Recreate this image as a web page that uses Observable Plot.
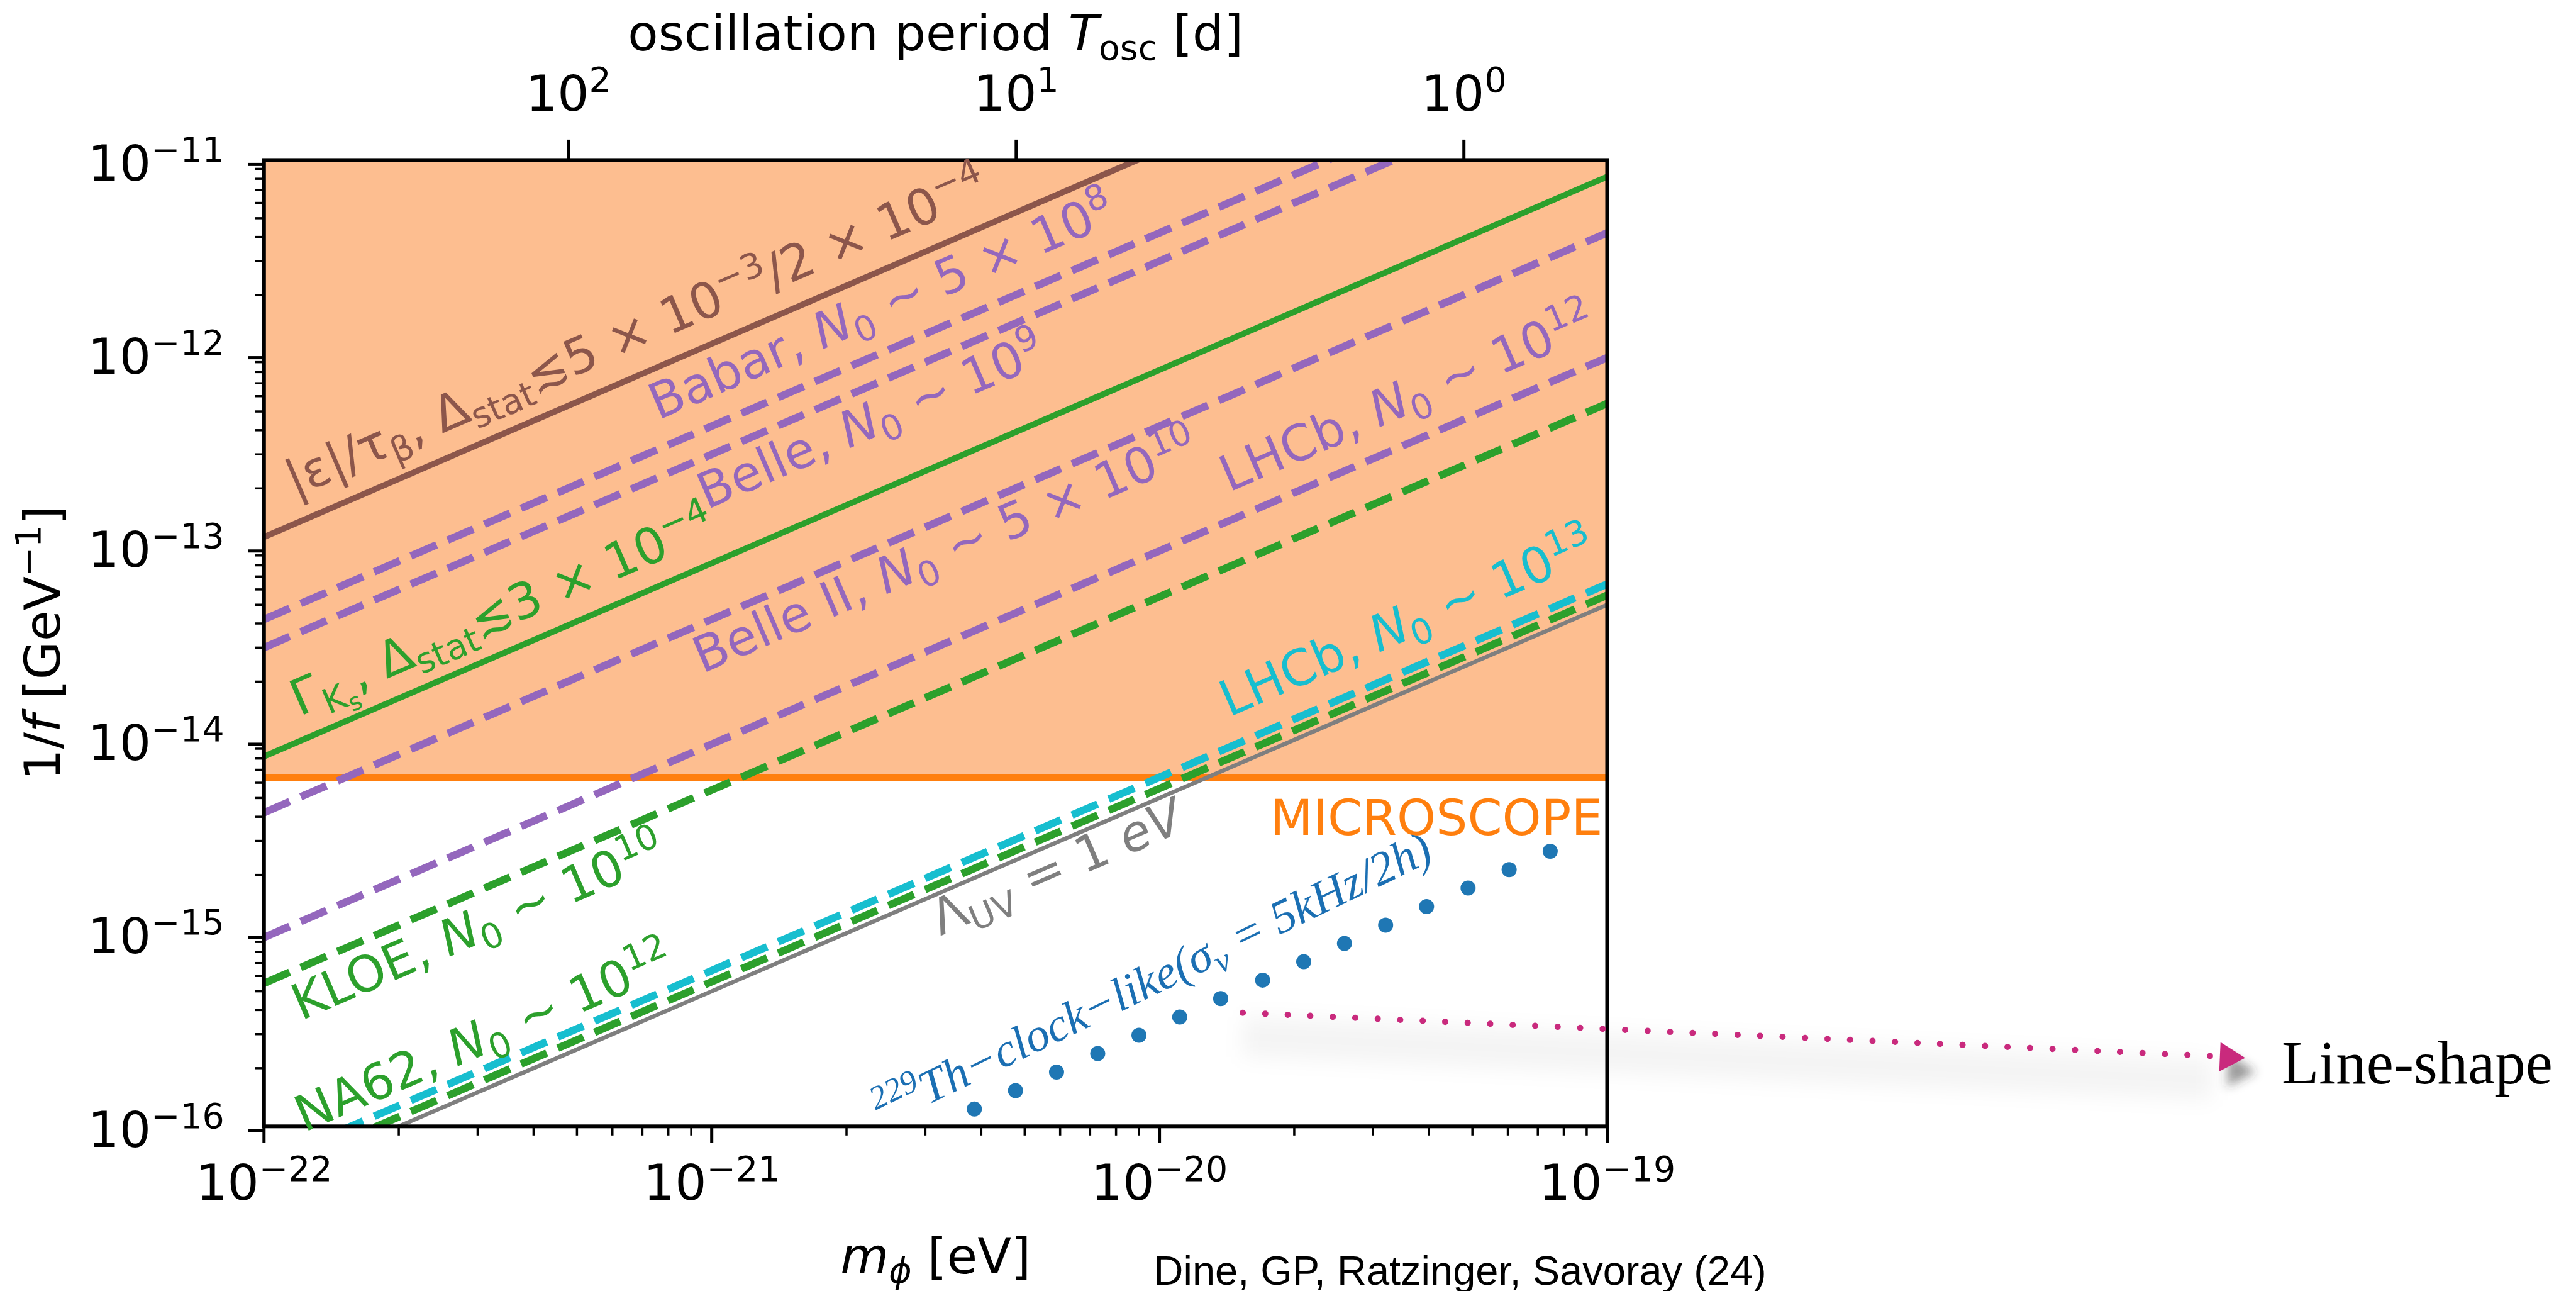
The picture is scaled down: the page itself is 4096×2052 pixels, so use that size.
<!DOCTYPE html>
<html>
<head>
<meta charset="utf-8">
<script src="https://cdn.jsdelivr.net/npm/d3@7"></script>
<script src="https://cdn.jsdelivr.net/npm/@observablehq/plot@0.6"></script>
<style>
html, body { margin: 0; padding: 0; background: #fff; overflow: hidden; }
</style>
</head>
<body>
<div id="chart"></div>
<script>
// ---------------- data ----------------
// x: scalar mass m_phi [eV], y: 1/f [GeV^-1]; every bound is a straight power law, given at both mass ends
const massEnds        = [1e-22, 1e-19];
const epsTauBeta      = [1.12e-13, 1.12e-10];
const babarN0         = [4.2e-14, 4.2e-11];
const belleN0         = [3.0e-14, 3.0e-11];
const gammaKs         = [8.2e-15, 8.2e-12];
const belle2N0        = [4.2e-15, 4.2e-12];
const lhcbN0e12       = [9.5e-16, 9.5e-13];
const kloeN0          = [5.5e-16, 5.5e-13];
const lhcbN0e13       = [6.4e-17, 6.4e-14];
const na62N0          = [5.6e-17, 5.6e-14];
const lambdaUV1eV     = [5.0e-17, 5.0e-14];
const microscopeLimit = [6.4e-15, 6.4e-15];

// 229Th clock-like projection (dots)
const thoriumMass = [3.86e-21, 4.77e-21, 5.89e-21, 7.28e-21, 9.0e-21, 1.11e-20, 1.37e-20, 1.70e-20,
                     2.10e-20, 2.59e-20, 3.20e-20, 3.95e-20, 4.89e-20, 6.04e-20, 7.46e-20];
const thoriumCoupling = [1.23e-16, 1.53e-16, 1.91e-16, 2.38e-16, 2.96e-16, 3.68e-16, 4.58e-16, 5.71e-16,
                         7.11e-16, 8.85e-16, 1.10e-15, 1.37e-15, 1.71e-15, 2.13e-15, 2.65e-15];

// ticks
const xMajorTicks = [1e-22, 1e-21, 1e-20, 1e-19];
const yMajorTicks = [1e-16, 1e-15, 1e-14, 1e-13, 1e-12, 1e-11];
const periodTicksDays = [100, 10, 1];
const planckEVs = 4.135667e-15;   // h in eV s : T = h / m

// in-plot labels (text, anchor mass, anchor 1/f)
const labelTexts = [
  "|ε|/τ_{β}, Δ_{stat}≲5 × 10^{−3}/2 × 10^{−4}",
  "Babar, `{N}_{0} ∼ 5 × 10^{8}",
  "Belle, `{N}_{0} ∼ 10^{9}",
  "Γ_{K_{s}}, Δ_{stat}≲3 × 10^{−4}",
  "Belle II, `{N}_{0} ∼ 5 × 10^{10}",
  "LHCb, `{N}_{0} ∼ 10^{12}",
  "LHCb, `{N}_{0} ∼ 10^{13}",
  "KLOE, `{N}_{0} ∼ 10^{10}",
  "NA62, `{N}_{0} ∼ 10^{12}",
  "Λ_{UV} = 1 `{eV}",
  "MICROSCOPE"
];
const labelMass     = [1.17e-22, 7.59e-22, 9.75e-22, 1.20e-22, 9.53e-22, 1.43e-20, 1.43e-20, 1.21e-22, 1.23e-22, 3.24e-21, 9.77e-20];
const labelCoupling = [1.80e-13, 4.50e-13, 1.55e-13, 1.32e-14, 2.20e-14, 1.91e-13, 1.31e-14, 3.52e-16, 9.3e-17, 9.66e-16, 3.22e-15];

const thoriumLabel = "^{229}Th−clock−like(σ_{ν} = 5kHz/2h)";
const thoriumLabelMass = [2.42e-21];
const thoriumLabelCoupling = [1.0e-16];

// call-out arrow and its note
const arrowMass = [1.535e-20, 2.25e-18];
const arrowCoupling = [3.87e-16, 2.31e-16];
const arrowHeadMass = [2.44e-18];
const arrowHeadCoupling = [2.28e-16];
const noteText = ["Line-shape"];
const noteMass = [3.21e-18];
const noteCoupling = [1.67e-16];

const creditText = ["Dine, GP, Ratzinger, Savoray (24)"];

// ---------------- styling ----------------
const C = {brown: "#8c564b", purple: "#9467bd", green: "#2ca02c", cyan: "#17becf",
           grey: "#7f7f7f", orange: "#ff7f0e", blue: "#1f77b4", fill: "#fdbe90", magenta: "#c92a7d"};
const DASH = "44.4 19.2";
const lineStyles = [
  {vals: epsTauBeta,  stroke: C.brown,  width: 9.5, dash: null},
  {vals: gammaKs,     stroke: C.green,  width: 9.5, dash: null},
  {vals: lambdaUV1eV, stroke: C.grey,   width: 6.5, dash: null},
  {vals: babarN0,     stroke: C.purple, width: 12,  dash: DASH},
  {vals: belleN0,     stroke: C.purple, width: 12,  dash: DASH},
  {vals: belle2N0,    stroke: C.purple, width: 12,  dash: DASH},
  {vals: lhcbN0e12,   stroke: C.purple, width: 12,  dash: DASH},
  {vals: kloeN0,      stroke: C.green,  width: 12,  dash: DASH},
  {vals: na62N0,      stroke: C.green,  width: 12,  dash: DASH},
  {vals: lhcbN0e13,   stroke: C.cyan,   width: 12,  dash: DASH}
];
const labelColors = [C.brown, C.purple, C.purple, C.green, C.purple, C.purple, C.cyan, C.green, C.green, C.grey, C.orange];

const W = 4096, H = 2052;
const FL = 419.3, FR = 2555, FT = 253.9, FB = 1789.8;
const FS = 79;
const ANGLE = -Math.atan((FB - FT) / 5 / ((FR - FL) / 3)) * 180 / Math.PI;

const table = (ms, gs) => ms.map((m, i) => ({m, g: gs[i]}));
const pow10 = d => {
  const e = Math.round(Math.log10(d));
  return "10^{" + (e < 0 ? "−" + (-e) : String(e)) + "}";
};
const minorOf = (domain, majors) => d3.scaleLog().domain(domain).ticks()
  .filter(t => !majors.some(M => Math.abs(t / M - 1) < 1e-6));
const xMinor = minorOf([1e-22, 1e-19], xMajorTicks);
const yMinor = minorOf([1e-16, 1e-11], yMajorTicks);
const periodTickMass = periodTicksDays.map(T => planckEVs / (T * 86400));

const marks = [];
// excluded region
marks.push(Plot.areaY(table(massEnds, microscopeLimit), {x: "m", y1: "g", y2: 1e-11, fill: C.fill}));
marks.push(Plot.line(table(massEnds, microscopeLimit), {x: "m", y: "g", stroke: C.orange, strokeWidth: 11, strokeLinecap: "butt"}));
// bounds
for (const s of lineStyles) {
  marks.push(Plot.line(table(massEnds, s.vals), {
    x: "m", y: "g", stroke: s.stroke, strokeWidth: s.width,
    strokeDasharray: s.dash ?? undefined, strokeLinecap: "butt", clip: true
  }));
}
// thorium dots
marks.push(Plot.dot(table(thoriumMass, thoriumCoupling), {x: "m", y: "g", r: 12, fill: C.blue, stroke: null}));
// frame
marks.push(Plot.frame({stroke: "black", strokeWidth: 6}));
// axes
marks.push(Plot.axisX({anchor: "bottom", ticks: xMajorTicks, tickSize: 27, tickPadding: 34, tickFormat: pow10, strokeWidth: 5, fontSize: FS, label: null}));
marks.push(Plot.axisX({anchor: "bottom", ticks: xMinor, tickSize: 15, tickFormat: () => "", strokeWidth: 3.5, label: null}));
marks.push(Plot.axisY({anchor: "left", ticks: yMajorTicks, tickSize: 25, tickPadding: 38, tickFormat: pow10, strokeWidth: 5, fontSize: FS, dy: 7, label: null}));
marks.push(Plot.axisY({anchor: "left", ticks: yMinor, tickSize: 14, tickFormat: () => "", strokeWidth: 3.5, label: null}));
marks.push(Plot.axisX({anchor: "top", ticks: periodTickMass, tickSize: 33, tickFormat: () => "", strokeWidth: 5, label: null}));
// top (period) tick labels
marks.push(Plot.text(periodTickMass, {x: d => d, frameAnchor: "top", dy: -78, text: d => pow10(planckEVs / d / 86400),
  lineAnchor: "bottom", textAnchor: "middle", fontSize: FS, fill: "black"}));
// axis titles
marks.push(Plot.text(["oscillation period `{T}_{osc} [d]"], {frameAnchor: "top", text: d => d, dy: -(FT - 79), lineAnchor: "bottom", fontSize: FS}));
marks.push(Plot.text(["`{m}_{`{ϕ}} [eV]"], {frameAnchor: "bottom", text: d => d, dy: 2023 - FB, lineAnchor: "bottom", fontSize: FS}));
marks.push(Plot.text(["1/`{f} [GeV^{−1}]"], {frameAnchor: "left", text: d => d, rotate: -90, dx: 94 - FL, lineAnchor: "bottom", textAnchor: "middle", fontSize: FS}));
// line labels
labelTexts.forEach((t, i) => {
  const isMic = t === "MICROSCOPE";
  marks.push(Plot.text([{t, m: labelMass[i], g: labelCoupling[i]}], {
    x: "m", y: "g", text: "t", fill: labelColors[i], fontSize: FS,
    textAnchor: isMic ? "end" : "start", lineAnchor: "bottom", rotate: isMic ? 0 : ANGLE
  }));
});
marks.push(Plot.text([{t: thoriumLabel, m: thoriumLabelMass[0], g: thoriumLabelCoupling[0]}], {
  x: "m", y: "g", text: "t", fill: "#1b6fb3", fontSize: 75, fontFamily: "Liberation Serif", fontStyle: "italic",
  textAnchor: "start", lineAnchor: "bottom", rotate: -25.8
}));
// call-out arrow with soft shadow
const arrowRow = [{m1: arrowMass[0], g1: arrowCoupling[0], m2: arrowMass[1], g2: arrowCoupling[1]}];
marks.push(Plot.link(arrowRow, {x1: "m1", y1: "g1", x2: "m2", y2: "g2", stroke: "#000", strokeOpacity: 0.045, strokeWidth: 64, dy: 38, strokeLinecap: "butt", ariaLabel: "arrow-shadow"}));
const headRow = table(arrowHeadMass, arrowHeadCoupling);
marks.push(Plot.dot(headRow, {x: "m", y: "g", symbol: "triangle", r: 19, fill: "#333", fillOpacity: 0.5, stroke: null, rotate: 92.5, dx: 14, dy: 22, ariaLabel: "head-shadow"}));
marks.push(Plot.link(arrowRow, {x1: "m1", y1: "g1", x2: "m2", y2: "g2", stroke: C.magenta, strokeWidth: 10, strokeDasharray: "0 35.8", strokeLinecap: "round"}));
marks.push(Plot.dot(headRow, {x: "m", y: "g", symbol: "triangle", r: 17.3, fill: C.magenta, stroke: null, rotate: 92.5}));
marks.push(Plot.text(table(noteMass, noteCoupling).map((d, i) => ({...d, t: noteText[i]})), {
  x: "m", y: "g", text: "t", fontFamily: "Liberation Serif", fontSize: 97, fill: "black", textAnchor: "start", lineAnchor: "bottom"
}));
// credit
marks.push(Plot.text(creditText, {frameAnchor: "bottom-left", text: d => d, dx: 1834 - FL, dy: 2041 - FB,
  textAnchor: "start", lineAnchor: "bottom", fontFamily: "Liberation Sans", fontSize: 65, fill: "black"}));

const svg = Plot.plot({
  width: W, height: H,
  marginLeft: FL, marginRight: W - FR, marginTop: FT, marginBottom: H - FB,
  x: {type: "log", domain: [1e-22, 1e-19], axis: null},
  y: {type: "log", domain: [1e-16, 1e-11], axis: null},
  style: {fontFamily: "'DejaVu Sans', sans-serif", fontSize: FS + "px", background: "white", overflow: "visible", color: "black"},
  marks
});
document.getElementById("chart").appendChild(svg);

// ---------------- rich text (super/subscripts, italics) ----------------
function richify(el) {
  const raw = el.textContent;
  if (!/[\^_`]\{/.test(raw)) return;
  const base = parseFloat(getComputedStyle(el).fontSize);
  const runs = [];
  function rec(pos, scale, shift, italic) {
    let buf = "";
    const flush = () => { if (buf) runs.push({text: buf, scale, shift, italic}); buf = ""; };
    while (pos < raw.length) {
      const c = raw[pos];
      if (c === "}") { flush(); return pos + 1; }
      if ((c === "^" || c === "_" || c === "`") && raw[pos + 1] === "{") {
        flush();
        if (c === "^") pos = rec(pos + 2, scale * 0.7, shift + 0.38 * scale, italic);
        else if (c === "_") pos = rec(pos + 2, scale * 0.7, shift - 0.2 * scale, italic);
        else pos = rec(pos + 2, scale, shift, true);
        continue;
      }
      buf += c; pos++;
    }
    flush();
    return pos;
  }
  rec(0, 1, 0, false);
  el.textContent = "";
  let cur = 0;
  for (const r of runs) {
    const t = document.createElementNS("http://www.w3.org/2000/svg", "tspan");
    t.textContent = r.text;
    if (r.scale !== 1) t.setAttribute("font-size", (base * r.scale).toFixed(2) + "px");
    if (r.italic) t.setAttribute("font-style", "italic");
    const dy = (cur - r.shift) * base;
    if (Math.abs(dy) > 1e-6) t.setAttribute("dy", dy.toFixed(2));
    cur = r.shift;
    el.appendChild(t);
  }
}
svg.querySelectorAll("text").forEach(richify);

// soft blur filters for the call-out shadow
const NS = "http://www.w3.org/2000/svg";
const defs = document.createElementNS(NS, "defs");
function makeBlur(id, sd) {
  const f = document.createElementNS(NS, "filter");
  f.setAttribute("id", id);
  f.setAttribute("filterUnits", "userSpaceOnUse");
  f.setAttribute("x", "-200"); f.setAttribute("y", "-200");
  f.setAttribute("width", "4500"); f.setAttribute("height", "2500");
  const b = document.createElementNS(NS, "feGaussianBlur");
  b.setAttribute("stdDeviation", sd);
  f.appendChild(b);
  defs.appendChild(f);
}
makeBlur("blurWide", 16);
makeBlur("blurHead", 8);
svg.insertBefore(defs, svg.firstChild);
svg.querySelectorAll("g").forEach(g => {
  const a = g.getAttribute("aria-label");
  if (a === "arrow-shadow" || g.getAttribute("stroke-width") === "64") g.setAttribute("filter", "url(#blurWide)");
  if (a === "head-shadow" || g.getAttribute("fill-opacity") === "0.5") g.setAttribute("filter", "url(#blurHead)");
});
</script>
</body>
</html>
